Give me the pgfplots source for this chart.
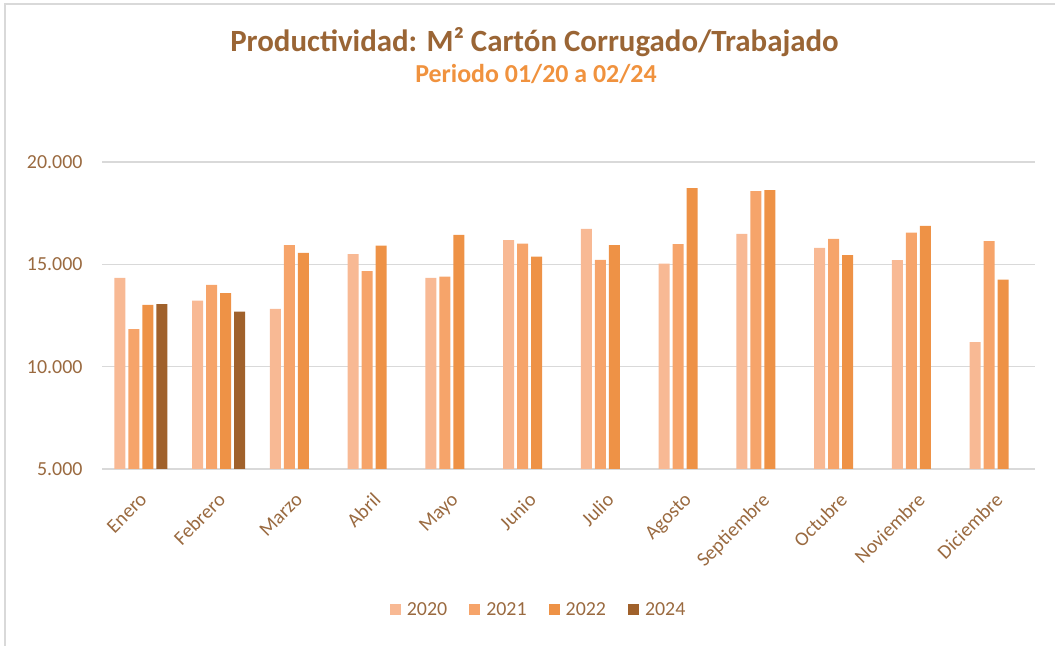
\documentclass[border=0pt]{standalone}
\usepackage{pgfplots}
\pgfplotsset{compat=1.18}
\usepackage{pgfplotstable}
\usepackage{fontspec}
\setmainfont{Carlito}
\definecolor{c2020}{HTML}{F8B994}
\definecolor{c2021}{HTML}{F6A46A}
\definecolor{c2022}{HTML}{EE9246}
\definecolor{c2024}{HTML}{A0612B}
\definecolor{titlebrown}{HTML}{9A6535}
\definecolor{subor}{HTML}{F0923E}
\definecolor{tickbrown}{HTML}{9A6A40}
\definecolor{gridgray}{HTML}{D9D9D9}
\pgfplotstableread{
x y2020 y2021 y2022
0 14336 11829 13016
1 13227 13994 13587
2 12821 15934 15558
3 15493 14663 15915
4 14336 14400 16438
5 16179 16013 15377
6 16731 15216 15934
7 15035 15983 18721
8 16487 18574 18623
9 15802 16242 15446
10 15200 16551 16878
11 11193 16129 14253
}\datatbl
\pgfplotstableread{
x y2024
0 13050
1 12690
}\datatblb
\begin{document}
\begin{tikzpicture}[x=1bp,y=1bp]
\useasboundingbox (0,0) rectangle (1055,646);
\draw[gridgray, line width=1.5bp] (5,0) -- (5,642) -- (1055,642);
\node[font=\fontsize{31}{36}\selectfont\bfseries, text=titlebrown] at (534.5,604) {Productividad: M² Cartón Corrugado/Trabajado};
\node[font=\fontsize{26}{30}\selectfont\bfseries, text=subor] at (536,572) {Periodo 01/20 a 02/24};
\begin{axis}[
  at={(102bp,177bp)}, anchor=south west,
  scale only axis, width=933bp, height=307bp,
  xmin=-0.5, xmax=11.5, ymin=5000, ymax=20000,
  scaled y ticks=false,
  ytick={5000,10000,15000,20000},
  yticklabels={5.000,10.000,15.000,20.000},
  xtick={0,...,11},
  xticklabels={Enero,Febrero,Marzo,Abril,Mayo,Junio,Julio,Agosto,Septiembre,Octubre,Noviembre,Diciembre},
  /pgf/number format/assume math mode=true,
  ymajorgrids, grid style={gridgray, line width=1.5bp},
  axis line style={draw=none}, tick style={draw=none},
  ticklabel style={font=\fontsize{20}{24}\selectfont, text=tickbrown},
  yticklabel style={xshift=-16bp},
  xticklabel style={xshift=-2bp, yshift=-13.5bp, rotate=45, anchor=north east},
  ybar=3bp, bar width=11bp,
  legend style={at={(0.468,-0.459)}, anchor=center, draw=none, fill=none,
    legend columns=-1, font=\fontsize{20}{24}\selectfont, text=tickbrown,
    /tikz/every even column/.append style={column sep=20bp}},
  legend image code/.code={\path[#1,draw=none] (0bp,-5.5bp) rectangle (11bp,5.5bp); \path (15bp,0bp);},
]
\addplot[fill=c2020, draw=none] table[x=x, y=y2020] {\datatbl};
\addplot[fill=c2021, draw=none] table[x=x, y=y2021] {\datatbl};
\addplot[fill=c2022, draw=none] table[x=x, y=y2022] {\datatbl};
\addplot[fill=c2024, draw=none] table[x=x, y=y2024] {\datatblb};
\legend{2020,2021,2022,2024}
\end{axis}
\end{tikzpicture}
\end{document}
